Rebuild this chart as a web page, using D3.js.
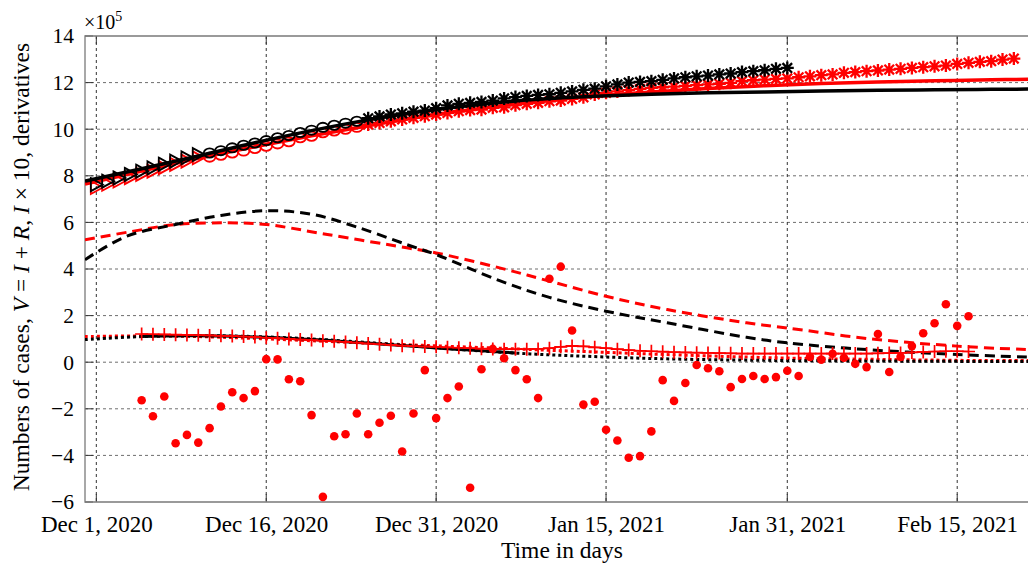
<!DOCTYPE html>
<html><head><meta charset="utf-8">
<script src="https://cdn.jsdelivr.net/npm/d3@7"></script>
<style>body{margin:0;background:#fff}svg{display:block}text{font-family:"Liberation Serif","Times New Roman",serif;fill:#000}</style>
</head><body><svg id="c" width="1028" height="563"></svg>
<script>
// ---------- data (days counted from Dec 1, 2020) ----------
const xTickDays = [0, 15, 30, 45, 61, 76];
const xTickLabels = ["Dec 1, 2020", "Dec 16, 2020", "Dec 31, 2020", "Jan 15, 2021", "Jan 31, 2021", "Feb 15, 2021"];
const yTicks = [14, 12, 10, 8, 6, 4, 2, 0, -2, -4, -6];

// observed V = I + R (x1e5), black country, days 0..61
const blackCases = [7.62, 7.77, 7.91, 8.06, 8.2, 8.34, 8.5, 8.63, 8.77, 8.91,
  8.98, 9.08, 9.2, 9.31, 9.41, 9.51, 9.63, 9.73, 9.86, 9.96, 10.08, 10.17, 10.26, 10.34,
  10.47, 10.55, 10.63, 10.68, 10.75, 10.8, 10.9, 11.02, 11.09, 11.13, 11.17, 11.23, 11.32, 11.38,
  11.43, 11.47, 11.5, 11.56, 11.62, 11.69, 11.74, 11.84, 11.92, 12.0, 12.03, 12.06, 12.12, 12.18,
  12.23, 12.27, 12.3, 12.35, 12.39, 12.45, 12.49, 12.53, 12.59, 12.63];
// observed V = I + R (x1e5), red country, days 0..81
const redCases = [7.5, 7.64, 7.78, 7.92, 8.06, 8.2, 8.35, 8.49, 8.63, 8.77,
  8.8, 8.88, 8.98, 9.06, 9.17, 9.27, 9.37, 9.46, 9.63, 9.7, 9.85, 9.92, 10.0, 10.08,
  10.2, 10.27, 10.34, 10.42, 10.49, 10.56, 10.63, 10.7, 10.77, 10.82, 10.84, 10.92, 10.94, 11.03,
  11.09, 11.13, 11.2, 11.23, 11.3, 11.37, 11.49, 11.56, 11.62, 11.68, 11.73, 11.77, 11.8, 11.83,
  11.86, 11.89, 11.92, 11.95, 11.99, 12.06, 12.1, 12.13, 12.16, 12.18, 12.23, 12.27, 12.32, 12.35,
  12.42, 12.45, 12.49, 12.52, 12.56, 12.59, 12.63, 12.66, 12.7, 12.73, 12.8, 12.85, 12.89, 12.92,
  12.99, 13.03];

// model curves sampled at these days
const modelDays = [-1, 4, 9, 14, 19, 24, 29, 34, 39, 44, 49, 54, 59, 64, 69, 74, 79, 82.25];
const blackModelV = [7.77, 8.3, 8.85, 9.42, 9.94, 10.4, 10.78, 11.07, 11.28, 11.41, 11.5, 11.56, 11.6, 11.64, 11.67, 11.69, 11.71, 11.72];
const redModelV = [7.65, 8.2, 8.75, 9.25, 9.72, 10.15, 10.55, 10.9, 11.18, 11.42, 11.6, 11.75, 11.87, 11.96, 12.03, 12.08, 12.12, 12.14];
const blackModelDeriv = [0.97, 1.1, 1.14, 1.1, 1.0, 0.84, 0.66, 0.48, 0.34, 0.24, 0.16, 0.11, 0.08, 0.06, 0.05, 0.04, 0.03, 0.03];
const redModelDeriv = [1.1, 1.13, 1.1, 1.02, 0.92, 0.82, 0.72, 0.63, 0.53, 0.44, 0.35, 0.27, 0.2, 0.15, 0.12, 0.09, 0.07, 0.07];

// I x 10 model curves
const blackIDays = [-1, 2.7, 7, 11, 15, 19, 23, 27.4, 30, 35.6, 40, 45, 50.4, 57.4, 61, 68, 76, 82.25];
const blackI10 = [4.4, 5.41, 5.91, 6.3, 6.5, 6.35, 5.8, 5.05, 4.62, 3.5, 2.78, 2.19, 1.69, 1.07, 0.83, 0.54, 0.33, 0.22];
const redIDays = [-1, 3, 7, 11.5, 15, 20.4, 27.4, 30, 35.6, 40, 45, 50.4, 57.4, 61, 68, 76, 82.25];
const redI10 = [5.25, 5.6, 5.91, 5.98, 5.91, 5.48, 4.91, 4.69, 4.05, 3.48, 2.83, 2.26, 1.69, 1.47, 1.02, 0.69, 0.54];

// observed first derivatives (x10), black days 4..37, red days 4..77
const blackDerivStart = 4;
const blackDeriv = [1.1, 1.11, 1.12, 1.12, 1.13, 1.13, 1.12, 1.12, 1.11, 1.1, 1.08, 1.07, 1.05, 1.03, 1.0, 0.97,
  0.95, 0.92, 0.88, 0.85, 0.82, 0.78, 0.75, 0.72, 0.68, 0.65, 0.61, 0.58, 0.55, 0.52, 0.49, 0.46, 0.43, 0.4];
const redDerivStart = 4;
const redDeriv = [1.21, 1.2, 1.19, 1.18, 1.17, 1.16, 1.15, 1.13, 1.12, 1.1, 1.08, 1.05, 1.03, 1.0, 0.97, 0.95,
  0.92, 0.9, 0.87, 0.84, 0.8, 0.77, 0.74, 0.71, 0.69, 0.67, 0.66, 0.64, 0.62, 0.6, 0.58, 0.57, 0.56, 0.56,
  0.56, 0.57, 0.6, 0.66, 0.7, 0.68, 0.64, 0.6, 0.56, 0.52, 0.49, 0.47, 0.45, 0.43, 0.42, 0.41, 0.4, 0.39,
  0.38, 0.37, 0.37, 0.37, 0.37, 0.37, 0.37, 0.37, 0.37, 0.37, 0.37, 0.37, 0.37, 0.38, 0.39, 0.4, 0.42,
  0.44, 0.46, 0.47, 0.47, 0.46];
// second-derivative points (red dots), days 4..77
const dotStart = 4;
const redDots = [-1.63, -2.32, -1.47, -3.48, -3.12, -3.45, -2.83, -1.9, -1.29, -1.54, -1.24, 0.13, 0.12, -0.73,
  -0.82, -2.27, -5.78, -3.18, -3.09, -2.2, -3.09, -2.6, -2.3, -3.83, -2.2, -0.34, -2.4, -1.54, -1.04, -5.39,
  -0.3, 0.57, 0.17, -0.34, -0.73, -1.54, 3.58, 4.1, 1.36, -1.82, -1.7, -2.9, -3.36, -4.1, -4.03, -2.97,
  -0.77, -1.66, -0.89, -0.12, -0.26, -0.39, -1.07, -0.72, -0.59, -0.72, -0.64, -0.37, -0.59, 0.23, 0.11,
  0.36, 0.19, -0.07, -0.21, 1.21, -0.42, 0.23, 0.69, 1.24, 1.67, 2.49, 1.56, 1.97];

// ---------- drawing ----------
const ORIGIN = Date.UTC(2020, 11, 1);
const toDate = d => new Date(ORIGIN + d * 864e5);
const L = 85, R = 1028, T = 36, B = 502;
const x = d3.scaleUtc().domain([toDate(-1), toDate(82.25)]).range([L, R]);
const y = d3.scaleLinear().domain([-6, 14]).range([B, T]);
const svg = d3.select("#c");
const RED = "#ff0000", BLK = "#000000";
const FONT = "Liberation Serif";

svg.append("defs").append("clipPath").attr("id", "clip")
  .append("rect").attr("x", L).attr("y", T).attr("width", R - L + 5).attr("height", B - T);

// grid
const grid = svg.append("g");
grid.selectAll(".hg").data(yTicks.filter(v => v !== 14 && v !== -6)).join("line")
  .attr("x1", L).attr("x2", R).attr("y1", d => y(d)).attr("y2", d => y(d))
  .attr("stroke", "#6e6e6e").attr("stroke-width", 1).attr("stroke-dasharray", "3,3");
grid.selectAll(".vg").data(xTickDays).join("line")
  .attr("x1", d => x(toDate(d))).attr("x2", d => x(toDate(d))).attr("y1", T).attr("y2", B)
  .attr("stroke", "#333").attr("stroke-width", 1).attr("stroke-dasharray", "3,3");

// axes via d3
const xAxis = d3.axisBottom(x).tickValues(xTickDays.map(toDate)).tickFormat((d, i) => xTickLabels[i]).tickSize(0).tickPadding(14);
const gx = svg.append("g").attr("transform", `translate(0,${B})`).call(xAxis);
gx.select(".domain").remove();
gx.selectAll("text").attr("font-size", 23).attr("font-family", FONT);
const yAxis = d3.axisLeft(y).tickValues(yTicks).tickFormat(d => d < 0 ? "\u2212" + Math.abs(d) : d).tickSize(0).tickPadding(11);
const gy = svg.append("g").attr("transform", `translate(${L},0)`).call(yAxis);
gy.select(".domain").remove();
gy.selectAll("text").attr("font-size", 21.5).attr("font-family", FONT);

// tick marks
const tk = svg.append("g").attr("stroke", "#333").attr("stroke-width", 1);
xTickDays.forEach(d => {
  const px = x(toDate(d));
  tk.append("line").attr("x1", px).attr("x2", px).attr("y1", B).attr("y2", B - 8);
  tk.append("line").attr("x1", px).attr("x2", px).attr("y1", T).attr("y2", T + 8);
});
yTicks.forEach(v => tk.append("line").attr("x1", L).attr("x2", L + 8).attr("y1", y(v)).attr("y2", y(v)));

// frame
svg.append("path").attr("d", `M${R + 5},${T}H${L}V${B}H${R + 5}`)
  .attr("fill", "none").attr("stroke", "#7a7a7a").attr("stroke-width", 1.3);

const plot = svg.append("g").attr("clip-path", "url(#clip)");
const lineOf = (days, vals, curve) => d3.line().curve(curve || d3.curveMonotoneX)
  .x((v, i) => x(toDate(days[i]))).y(v => y(v))(vals);
const seqDays = (start, n) => d3.range(n).map(i => start + i);
const smooth = d3.curveCatmullRom.alpha(0.5);

// I x 10 dashed curves
plot.append("path").attr("d", lineOf(redIDays, redI10, smooth)).attr("fill", "none").attr("stroke", RED)
  .attr("stroke-width", 3).attr("stroke-dasharray", "10,6");
plot.append("path").attr("d", lineOf(blackIDays, blackI10, smooth)).attr("fill", "none").attr("stroke", BLK)
  .attr("stroke-width", 3).attr("stroke-dasharray", "10,6");

// model derivatives dotted
plot.append("path").attr("d", lineOf(modelDays, redModelDeriv, smooth)).attr("fill", "none").attr("stroke", RED)
  .attr("stroke-width", 3).attr("stroke-dasharray", "3,3");
plot.append("path").attr("d", lineOf(modelDays, blackModelDeriv, smooth)).attr("fill", "none").attr("stroke", BLK)
  .attr("stroke-width", 3).attr("stroke-dasharray", "3,3");

// observed derivative, black
const bdDays = seqDays(blackDerivStart, blackDeriv.length);
plot.append("path").attr("d", lineOf(bdDays, blackDeriv, d3.curveLinear)).attr("fill", "none")
  .attr("stroke", BLK).attr("stroke-width", 3);

// red dots
const rdDays = seqDays(dotStart, redDots.length);
plot.selectAll(".rdot").data(redDots).join("circle")
  .attr("cx", (v, i) => x(toDate(rdDays[i]))).attr("cy", v => y(v)).attr("r", 4.3).attr("fill", RED);

// observed derivative red with + markers
const rpDays = seqDays(redDerivStart, redDeriv.length);
plot.append("path").attr("d", lineOf(rpDays, redDeriv, d3.curveLinear)).attr("fill", "none")
  .attr("stroke", RED).attr("stroke-width", 1.5);
plot.selectAll(".rplus").data(redDeriv).join("path")
  .attr("transform", (v, i) => `translate(${x(toDate(rpDays[i]))},${y(v)})`)
  .attr("d", "M-6.5,0H6.5M0,-6.5V6.5").attr("stroke", RED).attr("stroke-width", 1.7).attr("fill", "none");

// case markers
const TRI = "M-5.5,-6.5L6.5,0L-5.5,6.5Z";
const STAR = "M-6.5,0H6.5M0,-6.5V6.5M-4.8,-4.8L4.8,4.8M-4.8,4.8L4.8,-4.8";
function drawCases(vals, color) {
  const g = plot.append("g");
  vals.forEach((v, d) => {
    const px = x(toDate(d)), py = y(v);
    if (d <= 9) g.append("path").attr("d", TRI).attr("transform", `translate(${px},${py})`)
      .attr("fill", "none").attr("stroke", color).attr("stroke-width", 1.8);
    else if (d <= 23) g.append("ellipse").attr("cx", px).attr("cy", py).attr("rx", 5.8).attr("ry", 4.6)
      .attr("fill", "none").attr("stroke", color).attr("stroke-width", 1.8);
    else g.append("path").attr("d", STAR).attr("transform", `translate(${px},${py})`)
      .attr("fill", "none").attr("stroke", color).attr("stroke-width", 2.3);
  });
}
drawCases(redCases, RED);
plot.append("path").attr("d", lineOf(modelDays, redModelV)).attr("fill", "none").attr("stroke", RED).attr("stroke-width", 3.5);
drawCases(blackCases, BLK);
plot.append("path").attr("d", lineOf(modelDays, blackModelV)).attr("fill", "none").attr("stroke", BLK).attr("stroke-width", 3.5);

// x1e5 label
const ex = svg.append("text").attr("x", 84).attr("y", 29).attr("font-size", 20);
ex.append("tspan").text("\u00d710");
ex.append("tspan").attr("font-size", 14).attr("dy", -8).text("5");

// axis titles
svg.append("text").attr("x", 562).attr("y", 558).attr("text-anchor", "middle")
  .attr("font-size", 23.5).text("Time in days");
const yl = svg.append("text").attr("transform", "translate(29,267) rotate(-90)")
  .attr("text-anchor", "middle").attr("font-size", 23.5);
[["Numbers of cases,  ", false], ["V", true], [" = ", false], ["I", true], [" + ", false], ["R", true],
 [",  ", false], ["I", true], [" \u00d7 10, derivatives", false]]
  .forEach(([t, it]) => yl.append("tspan").attr("font-style", it ? "italic" : null).text(t));
</script></body></html>
